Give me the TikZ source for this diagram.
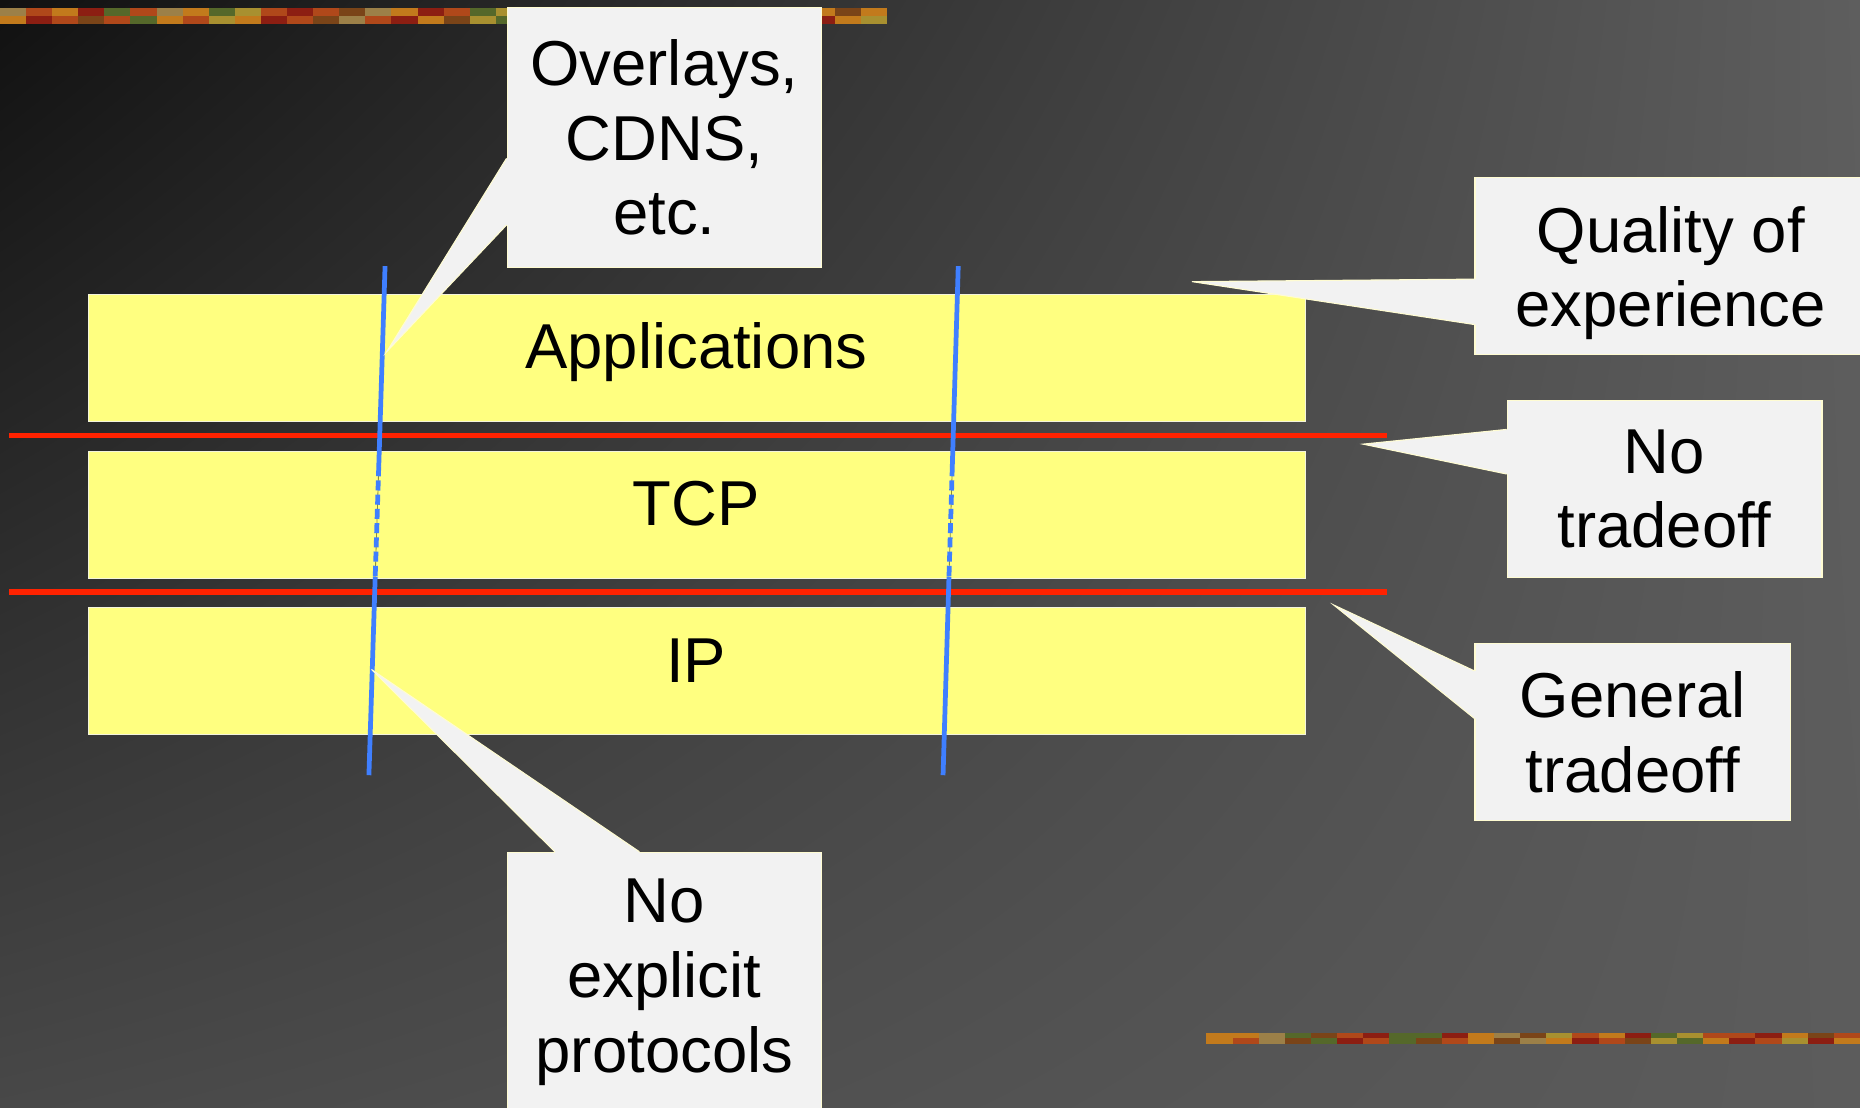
\documentclass[tikz,border=0pt]{standalone}
\usepackage{fontspec}
\setmainfont{Liberation Sans}
\usetikzlibrary{shadings}
\definecolor{bgUL}{HTML}{111111}
\definecolor{bgUR}{HTML}{5E5E5E}
\definecolor{bgLL}{HTML}{484848}
\definecolor{bgLR}{HTML}{5C5C5C}
\definecolor{layerYellow}{HTML}{FFFF80}
\definecolor{layerEdge}{HTML}{F4F4DC}
\definecolor{calloutFill}{HTML}{F2F2F2}
\definecolor{calloutEdge}{HTML}{FFFCD2}
\definecolor{lineRed}{HTML}{FF2200}
\definecolor{lineBlue}{HTML}{3F7FFF}
\definecolor{dashGap}{HTML}{8C8C3A}
\definecolor{sO}{HTML}{C27A1C}
\definecolor{sR}{HTML}{B0481A}
\definecolor{sD}{HTML}{8C1E12}
\definecolor{sG}{HTML}{55682A}
\definecolor{sT}{HTML}{9C8048}
\definecolor{sB}{HTML}{7A4418}
\definecolor{sY}{HTML}{A89030}
\begin{document}
\begin{tikzpicture}[x=1pt,y=-1pt,
  layer/.style={draw=layerEdge, line width=0.8pt, fill=layerYellow,
    minimum width=1026pt, minimum height=107pt, anchor=north west, inner sep=0pt},
  layertext/.style={font=\fontsize{53.5}{63}\selectfont, anchor=base, inner sep=0pt},
  cbox/.style={draw=calloutEdge, line width=0.9pt, fill=calloutFill, anchor=north west,
    inner sep=0pt, align=center, font=\fontsize{53.5}{63}\selectfont},
  cwedge/.style={fill=calloutFill},
  cedge/.style={draw=calloutEdge, line width=0.9pt},
  redline/.style={draw=lineRed, line width=4.5pt},
  blueline/.style={draw=lineBlue, line width=4pt},
  bluedash/.style={draw=lineBlue, line width=4pt, dash pattern=on 8.5pt off 3.5pt},
  dashgap/.style={draw=dashGap, line width=0.7pt},
]
\useasboundingbox (0,0) rectangle (1568,934);
\clip (0,0) rectangle (1568,934);
% background
\shade[upper left=bgUL, upper right=bgUR, lower left=bgLL, lower right=bgLR]
  (0,0) rectangle (1568,934);
% decorative strips
\foreach \c [count=\i from 0] in {sT,sR,sO,sD,sG,sR,sT,sO,sG,sY,sR,sD,sR,sB,sT,sO,sD,sR,sG,sY,sO,sR,sD,sB,sO,sG,sR,sT,sY,sD,sR,sO,sB,sO}
  \fill[\c] (\i*22,7) rectangle ++(22,6.5);
\foreach \c [count=\i from 0] in {sO,sD,sR,sB,sR,sG,sO,sR,sY,sO,sD,sR,sB,sT,sR,sD,sO,sB,sY,sG,sR,sO,sB,sD,sR,sY,sO,sR,sG,sR,sB,sD,sO,sY}
  \fill[\c] (\i*22,13.5) rectangle ++(22,6.5);
\foreach \c [count=\i from 0] in {sO,sO,sT,sG,sB,sR,sD,sG,sG,sD,sO,sT,sB,sY,sR,sO,sD,sG,sY,sR,sR,sD,sO,sB,sR}
  \fill[\c] (1017+\i*22.04,870.4) rectangle ++(22.04,5.05);
\foreach \c [count=\i from 0] in {sO,sR,sT,sB,sG,sD,sR,sG,sB,sR,sO,sB,sT,sO,sD,sR,sB,sY,sG,sO,sD,sR,sY,sD,sO}
  \fill[\c] (1017+\i*22.04,875.45) rectangle ++(22.04,5.05);
% layers
\node[layer] (app) at (74,248) {};
\node[layer] (tcp) at (74,380) {};
\node[layer] (ip)  at (74,512) {};
\node[layertext] (appt) at (587,311) {Applications};
\node[layertext] (tcpt) at (587,443) {TCP};
\node[layertext] (ipt)  at (587,575.5) {IP};
% red separators
\coordinate (ra1) at (8,367);    \coordinate (ra2) at (1169,367);
\coordinate (rb1) at (8,499);    \coordinate (rb2) at (1169,499);
\draw[redline] (ra1) -- (ra2);
\draw[redline] (rb1) -- (rb2);
% blue lines
\coordinate (l1) at (324.6,224.3); \coordinate (l2) at (319.3,393);
\coordinate (l3) at (316.3,486);   \coordinate (l4) at (311,653.5);
\coordinate (r1) at (807.8,224.3); \coordinate (r2) at (802.8,393);
\coordinate (r3) at (800.0,486);   \coordinate (r4) at (795,653.5);
\draw[dashgap] (l2) -- (l3);
\draw[dashgap] (r2) -- (r3);
\draw[blueline] (l1) -- (l2);
\draw[bluedash] (l2) -- (l3);
\draw[blueline] (l3) -- (l4);
\draw[blueline] (r1) -- (r2);
\draw[bluedash] (r2) -- (r3);
\draw[blueline] (r3) -- (r4);
% callouts
\node[cbox, minimum width=265.3pt, minimum height=218.6pt] (ov) at (427,6.2) {Overlays,\\CDNS,\\etc.};
\coordinate (ovtip) at (326,296.5);
\path (ov.west |- 0,133.5) coordinate (ova) (ov.west |- 0,189.7) coordinate (ovb);
\fill[cwedge] ([xshift=2pt]ova) -- (ova) -- (ovtip) -- (ovb) -- ([xshift=2pt]ovb) -- cycle;
\draw[cedge] (ova) -- (ovtip) -- (ovb);

\node[cbox, minimum width=330pt, minimum height=149.8pt] (qoe) at (1243,148.8) {\rule{0pt}{51pt}Quality of\\experience};
\coordinate (qoetip) at (1004.8,237.4);
\path (qoe.west |- 0,235.3) coordinate (qoea) (qoe.west |- 0,273.6) coordinate (qoeb);
\fill[cwedge] ([xshift=2pt]qoea) -- (qoea) -- (qoetip) -- (qoeb) -- ([xshift=2pt]qoeb) -- cycle;
\draw[cedge] (qoea) -- (qoetip) -- (qoeb);

\node[cbox, minimum width=265.5pt, minimum height=149.7pt] (nt) at (1270,336.8) {No\\tradeoff};
\coordinate (nttip) at (1149,374.4);
\path (nt.west |- 0,362) coordinate (nta) (nt.west |- 0,399.6) coordinate (ntb);
\fill[cwedge] ([xshift=2pt]nta) -- (nta) -- (nttip) -- (ntb) -- ([xshift=2pt]ntb) -- cycle;
\draw[cedge] (nta) -- (nttip) -- (ntb);

\node[cbox, minimum width=265.9pt, minimum height=149.5pt] (gt) at (1243,541.9) {General\\tradeoff};
\coordinate (gttip) at (1124.3,510);
\path (gt.west |- 0,565.6) coordinate (gta) (gt.west |- 0,605.7) coordinate (gtb);
\fill[cwedge] ([xshift=2pt]gta) -- (gta) -- (gttip) -- (gtb) -- ([xshift=2pt]gtb) -- cycle;
\draw[cedge] (gta) -- (gttip) -- (gtb);

\node[cbox, minimum width=265.3pt, minimum height=219pt] (ne) at (427,718) {No\\explicit\\protocols};
\coordinate (netip) at (313.2,564.4);
\path (ne.north -| 467.7,0) coordinate (nea) (ne.north -| 539,0) coordinate (neb);
\fill[cwedge] ([yshift=-2pt]nea) -- (nea) -- (netip) -- (neb) -- ([yshift=-2pt]neb) -- cycle;
\draw[cedge] (nea) -- (netip) -- (neb);
\end{tikzpicture}
\end{document}
